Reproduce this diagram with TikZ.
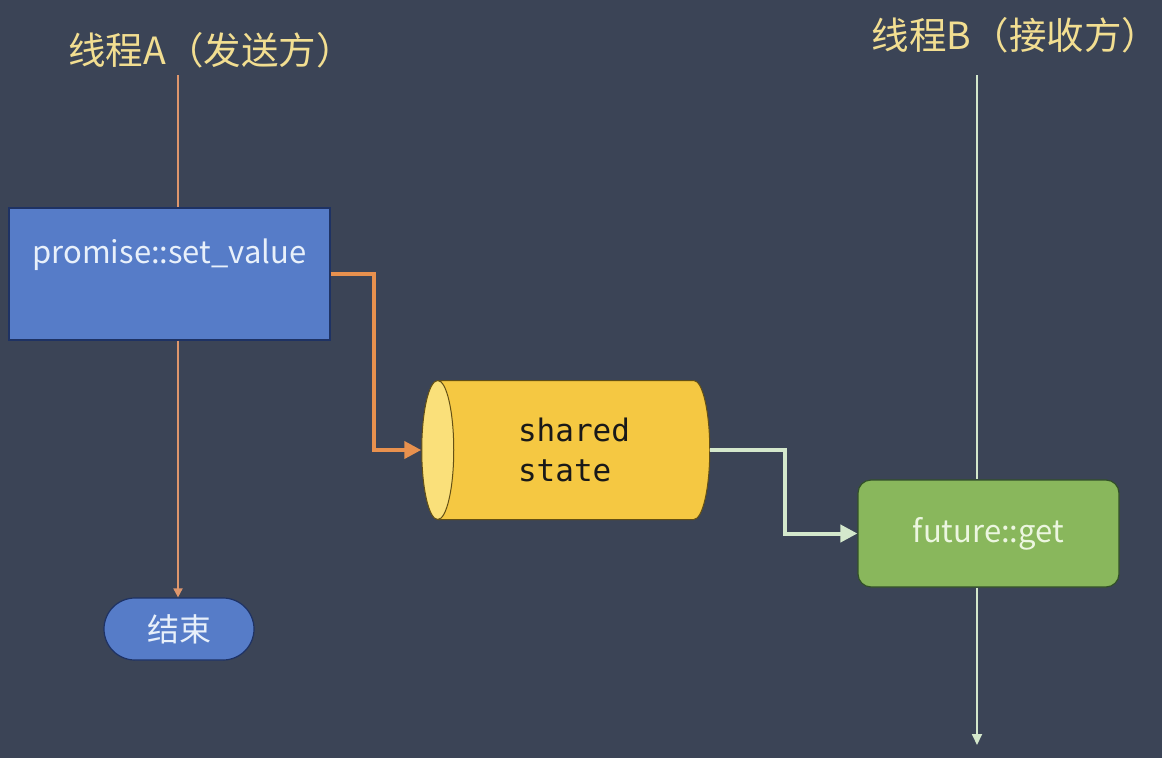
\documentclass[tikz,border=0pt]{standalone}
\usepackage{fontspec}
\setmainfont{Noto Sans CJK SC}
\newfontfamily\monofnt{DejaVu Sans Mono}
\usetikzlibrary{shapes.geometric,arrows.meta,calc}
\definecolor{bg}{RGB}{59,68,86}
\definecolor{titlecol}{RGB}{242,222,145}
\definecolor{thinor}{RGB}{222,150,108}
\definecolor{thickor}{RGB}{232,145,78}
\definecolor{thingr}{RGB}{212,232,204}
\definecolor{boxblue}{RGB}{86,124,200}
\definecolor{boxblueline}{RGB}{30,50,100}
\definecolor{boxgreen}{RGB}{137,183,92}
\definecolor{boxgreenline}{RGB}{50,80,40}
\definecolor{cylbody}{RGB}{245,200,66}
\definecolor{cylend}{RGB}{250,224,122}
\definecolor{cylline}{RGB}{100,80,20}
\definecolor{lighttext}{RGB}{232,240,250}
\definecolor{greentext}{RGB}{236,246,224}
\definecolor{cyltext}{RGB}{25,25,25}
\tikzset{
  titletext/.style={text=titlecol, font=\fontsize{37.5}{44}\selectfont, inner sep=0pt},
  bluebox/.style={draw=boxblueline, line width=1.2pt, fill=boxblue, inner sep=0pt},
  greenbox/.style={draw=boxgreenline, line width=1.2pt, fill=boxgreen, rounded corners=13pt, inner sep=0pt},
  boxtext/.style={font=\fontsize{31}{36}\selectfont, inner sep=0pt},
  thinorange/.style={draw=thinor, line width=1.8pt},
  thingreen/.style={draw=thingr, line width=1.8pt},
  thickorange/.style={draw=thickor, line width=4pt, -{Triangle[length=17pt,width=17pt]}},
  thickgreen/.style={draw=thingr, line width=4pt, -{Triangle[length=17pt,width=17pt]}},
}
\begin{document}
\begin{tikzpicture}[x=1pt,y=-1pt]
\useasboundingbox[fill=bg] (0,0) rectangle (1162,758);

% titles
\node (tA) [titletext] at (211,50) {线程A（发送方）};
\node (tB) [titletext] at (1015.5,35) {线程B（接收方）};

\coordinate (aTop) at (178,75);
\coordinate (bTop) at (977,75);
\coordinate (bEnd) at (977,745);

% promise box
\node (prom) [bluebox, minimum width=321pt, minimum height=132pt] at (169.5,274) {};
\node (promT) [boxtext, text=lighttext] at ([yshift=19pt]prom.center) {promise::set\_value};

% end pill
\node (fin) [bluebox, rounded corners=31pt, minimum width=150pt, minimum height=62pt,
  text=lighttext, font=\fontsize{32}{36}\selectfont] at (179,629) {结束};

% cylinder
\node (cyl) [cylinder, shape border rotate=180, aspect=0.5, draw=cylline, line width=1pt,
  minimum width=139pt, minimum height=288pt, cylinder uses custom fill,
  cylinder body fill=cylbody, cylinder end fill=cylend, inner sep=0pt,
  align=left, text=cyltext, font=\monofnt\fontsize{31}{40}\selectfont] at (574,450)
  {shared\\state};

% future box
\node (fut) [greenbox, minimum width=261pt, minimum height=107pt, text=greentext,
  font=\fontsize{31}{36}\selectfont] at (988.5,533.5) {future::get};

% thread A line
\draw[thinorange] (aTop) -- (aTop |- prom.north);
\draw[thinorange, -{Triangle[length=9pt,width=9pt]}] (aTop |- prom.south) -- (aTop |- fin.north);

% thread B line
\draw[thingreen] (bTop) -- (bTop |- fut.north);
\draw[thingreen, -{Triangle[length=11pt,width=10pt]}] (bTop |- fut.south) -- (bEnd);

% connectors
\draw[thickorange] (prom.east) -- ++(43,0) |- (cyl.west);
\draw[thickgreen] (cyl.east) -- ++(75,0) |- (fut.west);
\end{tikzpicture}
\end{document}
